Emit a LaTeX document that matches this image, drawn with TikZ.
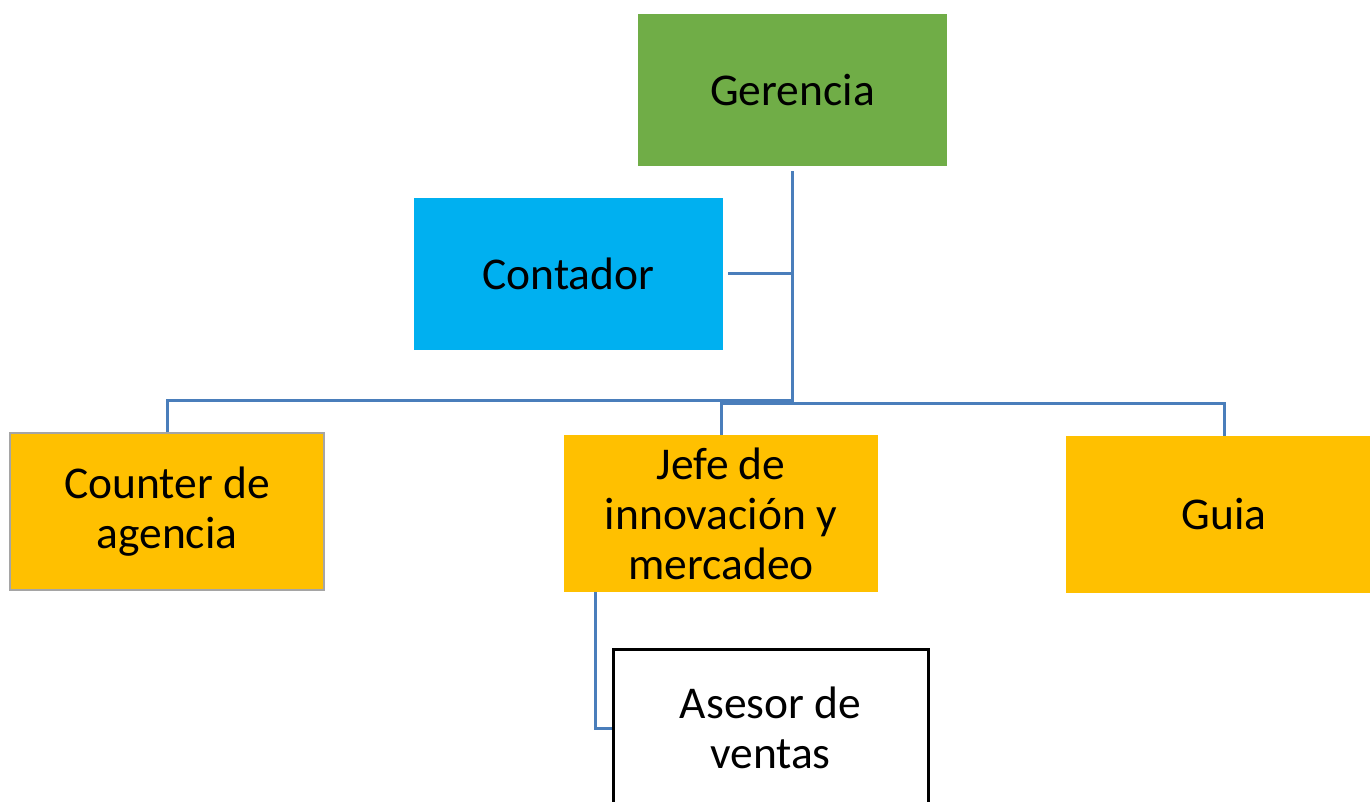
\documentclass[tikz,border=0pt]{standalone}
\usepackage{fontspec}
\setmainfont{Carlito}
\definecolor{gergreen}{HTML}{70AD47}
\definecolor{conblue}{HTML}{00B0F0}
\definecolor{gold}{HTML}{FFC000}
\definecolor{linkblue}{HTML}{4A7EBB}
\definecolor{edgegray}{HTML}{A5A5A5}
\begin{document}
\begin{tikzpicture}[x=1pt,y=-1pt,
  box/.style={rectangle, inner sep=0pt, align=center, text=black,
    font=\fontsize{45.5}{50}\selectfont},
  conn/.style={draw=linkblue, line width=3pt}]
\useasboundingbox (0,0) rectangle (1370,802);
\node[box, fill=gergreen, minimum width=309pt, minimum height=152pt] (ger) at (792.5,90) {Gerencia};
\node[box, fill=conblue, minimum width=309pt, minimum height=152pt] (con) at (568.5,274) {Contador};
\node[box, fill=gold, draw=edgegray, line width=1.5pt, minimum width=314pt, minimum height=157pt] (ctr) at (167,511.5) {Counter de\\agencia};
\node[box, fill=gold, minimum width=314pt, minimum height=157pt] (jefe) at (721,513.5) {Jefe de\\innovación y\\mercadeo};
\node[box, fill=gold, minimum width=316pt, minimum height=157pt] (guia) at (1224,514.5) {Guia};
\node[box, fill=white, draw=black, line width=3pt, minimum width=315pt, minimum height=158pt] (ase) at (770.5,728) {Asesor de\\ventas};
\coordinate (hub) at (792.5,401.5);
\draw[conn] ([yshift=-5pt]ger.south) -- (hub);
\draw[conn] ([xshift=5pt]con.east) -- (con.east -| hub);
\draw[conn] (ctr.north) |- ([yshift=1.5pt]hub);
\draw[conn] (jefe.north) |- ([yshift=-1.5pt]hub);
\draw[conn] (guia.north) |- ([yshift=-1.5pt]hub);
\draw[conn] ([xshift=32pt]jefe.south west) |- (ase.west);
\end{tikzpicture}
\end{document}
